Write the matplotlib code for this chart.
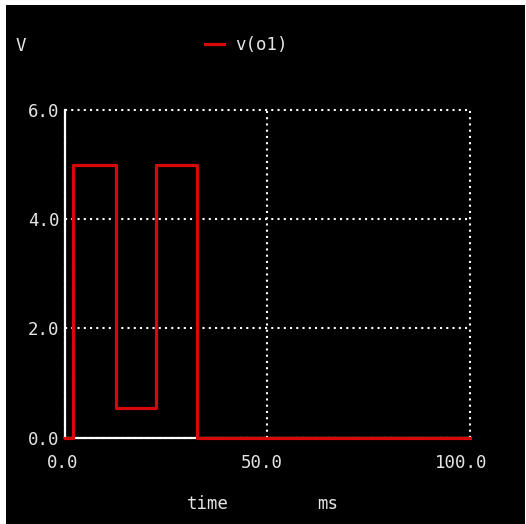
import matplotlib
matplotlib.use("Agg")
import matplotlib.pyplot as plt
import matplotlib.transforms as mtransforms
from matplotlib.patches import Rectangle

# v(o1) transient, ms / V (step points, held until next time)
time_ms = [0.0, 2.0, 12.6, 22.6, 32.6, 100.0]
v_o1 = [0.0, 5.0, 0.54, 5.0, 0.0, 0.0]

x_ticks = [0.0, 50.0, 100.0]
y_ticks = [0.0, 2.0, 4.0, 6.0]

FG = '#e6e6e6'
RED = '#d80808'
FONT = 'DejaVu Sans Mono'
FS = 12.5

fig = plt.figure(figsize=(5.26, 5.24), dpi=100, facecolor='white')
# black plotting window with thin light border top/left like the screenshot
fig.add_artist(Rectangle((6 / 526, 0), 519 / 526, 519 / 524,
                         transform=fig.transFigure, facecolor='black',
                         edgecolor='none', zorder=0))

ax = fig.add_axes([65 / 526, 86.3 / 524, 404.5 / 526, 327.7 / 524])
ax.set_facecolor('black')

ax.plot(time_ms, v_o1, drawstyle='steps-post', color=RED, linewidth=2.3,
        solid_joinstyle='round', zorder=3, clip_on=False, label='v(o1)')

ax.set_xlim(0, 100)
ax.set_ylim(0, 6)
ax.set_xticks(x_ticks)
ax.set_yticks(y_ticks)
ax.set_xticklabels([f'{v:.1f}' for v in x_ticks])
ax.set_yticklabels([f'{v:.1f}' for v in y_ticks])

for s in ['top', 'right']:
    ax.spines[s].set_visible(False)
for s in ['left', 'bottom']:
    ax.spines[s].set_color('white')
    ax.spines[s].set_linewidth(1.6)

ax.tick_params(axis='both', length=0, colors=FG, labelsize=FS)
ax.tick_params(axis='x', pad=12)
ax.tick_params(axis='y', pad=4)
for lab in ax.get_xticklabels() + ax.get_yticklabels():
    lab.set_fontfamily(FONT)
# x labels drift left of their ticks in the original
for lab, dx in zip(ax.get_xticklabels(), [-2.5, -5.5, -8]):
    shift = mtransforms.ScaledTranslation(dx / 100, 0, fig.dpi_scale_trans)
    lab.set_transform(lab.get_transform() + shift)

ax.grid(True, color='white', linestyle=(0, (1, 2)), linewidth=1.5)
for gl in ax.get_xgridlines() + ax.get_ygridlines():
    gl.set_clip_on(False)

fig.text(21 / 526, 1 - 51 / 524, 'V', color=FG, fontsize=FS, family=FONT,
         ha='center', va='baseline')
fig.text(207.5 / 526, 1 - 509 / 524, 'time', color=FG, fontsize=FS,
         family=FONT, ha='center', va='baseline')
fig.text(327.5 / 526, 1 - 509 / 524, 'ms', color=FG, fontsize=FS,
         family=FONT, ha='center', va='baseline')

leg = fig.legend(loc='center left', bbox_to_anchor=(205 / 526, 1 - 45 / 524),
                 frameon=False, borderpad=0, borderaxespad=0,
                 handlelength=1.1, handletextpad=0.65,
                 prop={'family': FONT, 'size': FS})
for t in leg.get_texts():
    t.set_color(FG)

fig.savefig('out.png', dpi=100, facecolor=fig.get_facecolor())
